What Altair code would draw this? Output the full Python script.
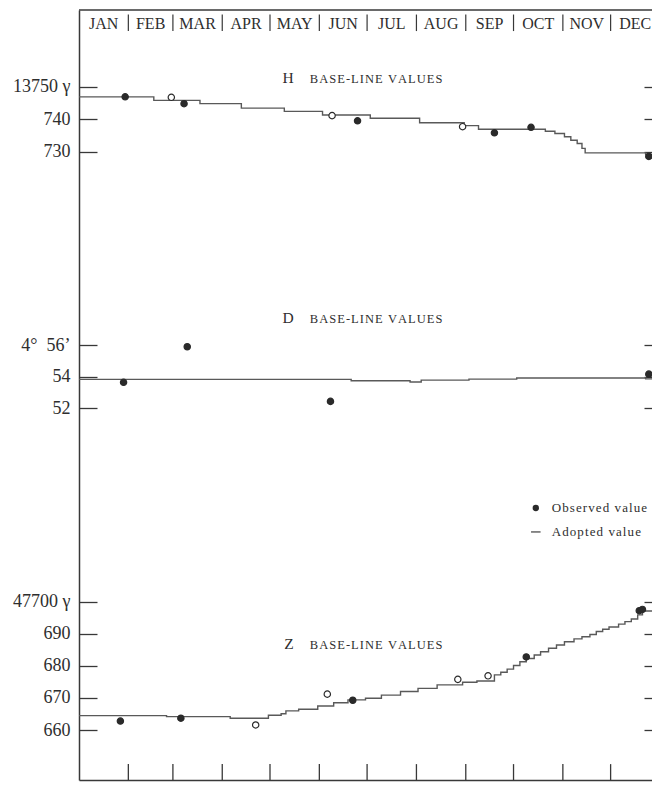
import altair as alt
import pandas as pd

YEAR = 1959
MONTHS = ["JAN", "FEB", "MAR", "APR", "MAY", "JUN", "JUL", "AUG", "SEP", "OCT", "NOV", "DEC"]

# ---- H base-line values (gamma) ----
H_STEP_DATES = ["01-01", "02-17", "03-18", "04-13", "05-10", "06-03", "07-03", "08-03", "08-31", "09-09",
                "10-21", "10-27", "11-02", "11-06", "11-10", "11-13", "11-15", "12-23", "12-31"]
H_STEP_VALUES = [13746.9, 13745.8, 13744.8, 13743.4, 13742.4, 13741.3, 13740.3, 13738.9, 13738.0, 13736.9,
                 13736.3, 13735.6, 13734.6, 13733.5, 13732.5, 13731.0, 13729.6, 13729.1, 13729.1]
H_OBS_DATES = ["01-30", "02-28", "03-08", "06-09", "06-25", "08-30", "09-19", "10-12", "12-25"]
H_OBS_VALUES = [13746.9, 13746.75, 13744.8, 13741.1, 13739.5, 13737.7, 13735.8, 13737.5, 13728.5]
H_OBS_KIND = ["filled", "open", "filled", "open", "filled", "open", "filled", "filled", "filled"]

# ---- D base-line values (minutes past 4 deg) ----
D_STEP_DATES = ["01-01", "06-21", "07-28", "08-04", "09-03", "10-03", "12-23", "12-31"]
D_STEP_VALUES = [53.85, 53.76, 53.68, 53.80, 53.86, 53.93, 53.88, 53.88]
D_OBS_DATES = ["01-29", "03-10", "06-08", "12-25"]
D_OBS_VALUES = [53.66, 55.92, 52.45, 54.18]
D_OBS_KIND = ["filled", "filled", "filled", "filled"]

# ---- Z base-line values (gamma) ----
Z_STEP_DATES = ["01-01", "02-25", "04-06", "04-30", "05-08", "05-11", "05-19", "05-31", "06-10", "06-19",
                "06-30", "07-10", "07-22", "08-02", "08-14", "08-30", "09-08", "09-19", "09-23", "09-27",
                "10-01", "10-05", "10-09", "10-14", "10-18", "10-23", "10-28", "11-02", "11-08", "11-13",
                "11-18", "11-22", "11-26", "11-30", "12-06", "12-10", "12-14", "12-18", "12-21", "12-31"]
Z_STEP_VALUES = [47664.5, 47664.2, 47663.7, 47664.6, 47665.1, 47666.0, 47666.5, 47667.5, 47668.5, 47669.4,
                 47669.9, 47670.9, 47672.0, 47673.0, 47674.1, 47674.9, 47675.3, 47677.2, 47678.0, 47679.0,
                 47680.1, 47681.3, 47682.3, 47683.4, 47684.4, 47685.5, 47686.5, 47687.5, 47688.4, 47689.1,
                 47689.8, 47690.7, 47691.4, 47692.1, 47693.0, 47693.8, 47694.6, 47695.9, 47697.1, 47697.1]
Z_OBS_DATES = ["01-27", "03-06", "04-22", "06-06", "06-22", "08-27", "09-15", "10-09", "12-19", "12-21"]
Z_OBS_VALUES = [47662.8, 47663.7, 47661.6, 47671.2, 47669.3, 47675.8, 47676.9, 47682.8, 47697.2, 47697.6]
Z_OBS_KIND = ["filled", "filled", "open", "open", "filled", "open", "open", "filled", "filled", "filled"]

H_TICKS = [13730, 13740, 13750]
D_TICKS = [52, 54, 56]
Z_TICKS = [47660, 47670, 47680, 47690, 47700]

# ---- styles ----
SERIF = "Liberation Serif"
INK = "#383838"
LINE = "#595959"
DOT = "#2a2a2a"
TEXT = "#2e2e2e"
NB = "\u00a0"


def spaced(s, sep="\u2009"):
    return sep.join(s)


def to_dates(mmdd):
    return pd.to_datetime([f"{YEAR}-{d}" for d in mmdd])


def frame(dates, values, kind=None):
    df = pd.DataFrame({"date": to_dates(dates), "value": values})
    if kind is not None:
        df["kind"] = kind
    return df


starts = pd.to_datetime([f"{YEAR}-{m:02d}-01" for m in range(1, 13)])
ends = list(starts[1:]) + [pd.Timestamp(f"{YEAR + 1}-01-01")]
mids = [s + (e - s) / 2 for s, e in zip(starts, ends)]
month_df = pd.DataFrame({"month": MONTHS, "mid": mids})
bound_df = pd.DataFrame({"start": starts[1:]})
ONE = pd.DataFrame({"k": [0]})

X_SCALE = alt.Scale(domain=[alt.DateTime(year=YEAR, month=1, date=1),
                            alt.DateTime(year=YEAR, month=12, date=27)], nice=False)
X_AXIS = alt.Axis(orient="bottom", title=None, labels=False, ticks=False, grid=False,
                  domain=True, domainColor=INK, domainWidth=1.5)
H_SCALE = alt.Scale(domain=[13536.05, 13773.70], nice=False, zero=False)
D_SCALE = alt.Scale(domain=[28.41, 77.30], nice=False, zero=False)
Z_SCALE = alt.Scale(domain=[47644.45, 47884.33], nice=False, zero=False)
FILL_SCALE = alt.Scale(domain=["filled", "open"], range=[DOT, "#ffffff"])


def left_axis(values, expr):
    return alt.Axis(orient="left", values=values, labelExpr=expr, offset=-18, tickSize=18,
                    tickColor=INK, tickWidth=1.3, domain=False, grid=False, title=None,
                    labelPadding=9, labelFont=SERIF, labelFontSize=18, labelColor=TEXT)


def right_axis(values):
    return alt.Axis(orient="right", values=values, labels=False, domain=False, ticks=True,
                    tickSize=8, offset=-8, tickColor=INK, tickWidth=1.3, grid=False, title=None)


FRAME_AXIS = alt.Axis(orient="left", labels=False, ticks=False, grid=False, title=None,
                      domain=True, domainColor=INK, domainWidth=1.5)


def xf(field):
    return alt.X(f"{field}:T", scale=X_SCALE, axis=X_AXIS)


def xd(month, day):
    return alt.XDatum(alt.DateTime(year=YEAR, month=month, date=day), type="temporal",
                      scale=X_SCALE, axis=X_AXIS)


def yd(v, scale, axis):
    return alt.YDatum(v, type="quantitative", scale=scale, axis=axis)


def panel(steps, obs, scale, ticks, expr):
    y = alt.Y("value:Q", scale=scale, axis=left_axis(ticks, expr))
    line = alt.Chart(steps).mark_line(interpolate="step-after", clip=True, color=LINE,
                                      strokeWidth=1.4).encode(x=xf("date"), y=y)
    pts = alt.Chart(obs).mark_point(shape="circle", size=40, opacity=1, strokeWidth=1.2,
                                    stroke=DOT).encode(
        x=xf("date"), y=y, fill=alt.Fill("kind:N", scale=FILL_SCALE, legend=None))
    return alt.layer(line, pts)


def title_marks(letter, yval, scale, axis):
    big = alt.Chart(ONE).mark_text(text=letter, font=SERIF, fontSize=15.5, align="right", dx=-16,
                                   baseline="alphabetic", color=TEXT).encode(
        x=xd(5, 26), y=yd(yval, scale, axis))
    small = alt.Chart(ONE).mark_text(text=spaced("BASE-LINE VALUES", "\u200a"), font=SERIF,
                                     fontSize=12.5, align="left", baseline="alphabetic",
                                     color=TEXT).encode(
        x=xd(5, 26), y=yd(yval, scale, axis))
    return [big, small]


h_panel = panel(frame(H_STEP_DATES, H_STEP_VALUES), frame(H_OBS_DATES, H_OBS_VALUES, H_OBS_KIND),
                H_SCALE, H_TICKS,
                f"datum.value == 13750 ? '13750 \u03b3' : (datum.value - 13000) + '{NB}{NB}'")
d_panel = panel(frame(D_STEP_DATES, D_STEP_VALUES), frame(D_OBS_DATES, D_OBS_VALUES, D_OBS_KIND),
                D_SCALE, D_TICKS,
                f"datum.value == 56 ? '4\u00b0{NB}{NB}56\u2019' : datum.value + '{NB}{NB}'")
z_panel = panel(frame(Z_STEP_DATES, Z_STEP_VALUES), frame(Z_OBS_DATES, Z_OBS_VALUES, Z_OBS_KIND),
                Z_SCALE, Z_TICKS,
                f"datum.value == 47700 ? '47700 \u03b3' : (datum.value - 47000) + '{NB}{NB}'")

RH, RD, RZ = right_axis(H_TICKS), right_axis(D_TICKS), right_axis(Z_TICKS)

h_title = alt.layer(*title_marks("H", 13751.17, H_SCALE, RH))

legend_dot = alt.Chart(ONE).mark_point(shape="circle", filled=True, size=40, opacity=1, color=DOT).encode(
    x=xd(10, 15), y=yd(45.68, D_SCALE, RD))
legend_dash = alt.Chart(ONE).mark_rule(color=LINE, strokeWidth=1.4).encode(
    x=xd(10, 12), x2=alt.X2Datum(alt.DateTime(year=YEAR, month=10, date=18)), y=yd(44.16, D_SCALE, RD))
legend_t1 = alt.Chart(ONE).mark_text(text=spaced("Observed value", "\u200a"), font=SERIF, fontSize=13,
                                     align="left", baseline="middle", color=TEXT).encode(
    x=xd(10, 25), y=yd(45.68, D_SCALE, RD))
legend_t2 = alt.Chart(ONE).mark_text(text=spaced("Adopted value", "\u200a"), font=SERIF, fontSize=13,
                                     align="left", baseline="middle", color=TEXT).encode(
    x=xd(10, 25), y=yd(44.16, D_SCALE, RD))
d_title = alt.layer(*title_marks("D", 57.43, D_SCALE, RD), legend_dot, legend_dash, legend_t1, legend_t2)

bottom_ticks = alt.Chart(bound_df).mark_rule(color=INK, strokeWidth=1.3).encode(
    x=xf("start"), y=yd(47644.45, Z_SCALE, RZ), y2=alt.Y2Datum(47649.4))
z_title = alt.layer(*title_marks("Z", 47685.26, Z_SCALE, RZ), bottom_ticks)

hdr_text = alt.Chart(month_df).mark_text(font=SERIF, fontSize=16, color=TEXT, baseline="alphabetic").encode(
    x=xf("mid"), y=yd(13767.84, H_SCALE, FRAME_AXIS), text="month:N")
hdr_seps = alt.Chart(bound_df).mark_rule(color=INK, strokeWidth=1.2).encode(
    x=xf("start"), y=yd(13772.3, H_SCALE, FRAME_AXIS), y2=alt.Y2Datum(13767.2))
top_line = alt.Chart(ONE).mark_rule(color=INK, strokeWidth=1.5).encode(
    y=yd(13773.70, H_SCALE, FRAME_AXIS))
header = alt.layer(hdr_text, hdr_seps, top_line)

chart = alt.layer(h_panel, d_panel, z_panel, h_title, d_title, z_title, header).resolve_scale(
    y="independent"
).properties(
    width=573, height=770,
    autosize=alt.AutoSizeParams(type="none"),
    padding={"left": 71, "top": 2, "right": 0, "bottom": 2},
    background="#ffffff",
).configure_view(stroke=None)

chart.save("out.html", embed_options={"renderer": "svg", "actions": False})
